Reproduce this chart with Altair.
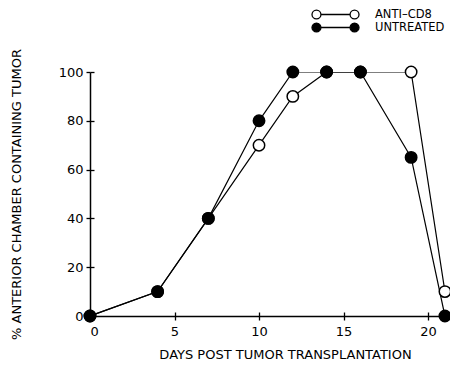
import altair as alt
import pandas as pd

series_names = ["ANTI\u2013CD8", "UNTREATED"]
anti_days = [0, 4, 7, 10, 12, 14, 16, 19, 21, 23]
anti_vals = [0, 10, 40, 70, 90, 100, 100, 100, 10, 0]
untr_days = [0, 4, 7, 10, 12, 14, 16, 19, 21]
untr_vals = [0, 10, 40, 80, 100, 100, 100, 65, 0]
x_ticks = [0, 5, 10, 15, 20]
y_ticks = [0, 20, 40, 60, 80, 100]

rows = []
o = 0
for d, v in zip(anti_days, anti_vals):
    rows.append({"series": series_names[0], "day": d, "pct": v, "o": o}); o += 1
for d, v in zip(untr_days, untr_vals):
    rows.append({"series": series_names[1], "day": d, "pct": v, "o": o}); o += 1
df = pd.DataFrame(rows)

FONT = "DejaVu Sans"
xscale = alt.Scale(domain=[0, 21.3], nice=False, zero=False)
yscale = alt.Scale(domain=[0, 100], nice=False)

common = dict(domainColor="black", domainWidth=1.5, tickColor="black", tickWidth=1.3,
              tickSize=4, grid=False, labelFont=FONT, labelFontSize=13, labelColor="black",
              titleFont=FONT, titleFontSize=13, titleFontWeight="normal", titleColor="black")

x_outer = alt.Axis(orient="bottom", values=x_ticks, title="DAYS POST TUMOR TRANSPLANTATION",
                   labelPadding=5, titleX=195, titleY=42, titleBaseline="alphabetic", **common)
y_outer = alt.Axis(orient="left", values=y_ticks, title="% ANTERIOR CHAMBER CONTAINING TUMOR",
                   labelPadding=3, titleX=-70, titleY=122, titleBaseline="alphabetic",
                   titleAngle=270, **common)

inner = dict(labels=False, domain=False, ticks=True, tickSize=4, offset=-4, title="",
             tickColor="black", tickWidth=1.3, grid=False)
x_inner = alt.Axis(orient="bottom", values=x_ticks, **inner)
y_inner = alt.Axis(orient="left", values=y_ticks, **inner)

legend_path = ("M-0.62,0A0.19,0.19,0,1,1,-1,0A0.19,0.19,0,1,1,-0.62,0Z"
               "M1,0A0.19,0.19,0,1,1,0.62,0A0.19,0.19,0,1,1,1,0Z"
               "M-0.62,0L0.62,0")

lines = alt.Chart(df).mark_line(color="black", strokeWidth=1.2, clip=True).encode(
    x=alt.X("day:Q", scale=xscale, axis=x_outer),
    y=alt.Y("pct:Q", scale=yscale, axis=y_outer),
    detail="series:N",
    order="day:Q",
)

points = alt.Chart(df).transform_filter("datum.day <= 21").mark_point(
    shape="circle", size=130, filled=True, fillOpacity=1, opacity=1,
    stroke="black", strokeWidth=1.5,
).encode(
    x=alt.X("day:Q", scale=xscale, axis=x_inner),
    y=alt.Y("pct:Q", scale=yscale, axis=y_inner),
    fill=alt.Fill("series:N", scale=alt.Scale(domain=series_names, range=["white", "black"]),
                  legend=alt.Legend(title="", orient="none", legendX=221, legendY=-64,
                                    symbolType=legend_path, symbolSize=2209,
                                    symbolStrokeColor="black", symbolStrokeWidth=1.3,
                                    labelFont=FONT, labelFontSize=11.5, labelColor="black",
                                    labelOffset=15, clipHeight=13, rowPadding=0, padding=0)),
    order="o:Q",
)

chart = alt.layer(lines, points).resolve_axis(x="independent", y="independent").properties(
    width=360, height=244,
    autosize=alt.AutoSizeParams(type="none"),
    padding={"left": 82, "top": 64, "right": 0, "bottom": 44},
    background="white",
).configure_view(stroke=None)

chart.save("out.html", embed_options={"renderer": "svg", "actions": False})
